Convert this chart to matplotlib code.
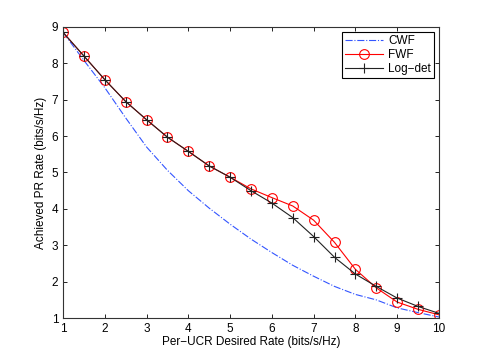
import matplotlib
matplotlib.use("Agg")
import matplotlib.pyplot as plt

x = [1, 1.5, 2, 2.5, 3, 3.5, 4, 4.5, 5, 5.5, 6, 6.5, 7, 7.5, 8, 8.5, 9, 9.5, 10]
cwf = [8.85, 8.08, 7.33, 6.5, 5.7, 5.06, 4.5, 4.02, 3.58, 3.17, 2.8, 2.45, 2.15, 1.87, 1.65, 1.5, 1.28, 1.15, 1.03]
fwf = [8.85, 8.2, 7.55, 6.95, 6.45, 5.97, 5.58, 5.18, 4.87, 4.55, 4.31, 4.08, 3.69, 3.08, 2.34, 1.83, 1.44, 1.24, 1.09]
logdet = [8.85, 8.2, 7.55, 6.95, 6.45, 5.97, 5.58, 5.18, 4.87, 4.5, 4.16, 3.76, 3.24, 2.67, 2.21, 1.87, 1.55, 1.32, 1.13]
xticks = [1, 2, 3, 4, 5, 6, 7, 8, 9, 10]
yticks = [1, 2, 3, 4, 5, 6, 7, 8, 9]

plt.rcParams['font.family'] = ['Liberation Sans', 'DejaVu Sans']
fig = plt.figure(figsize=(4.85, 3.59), dpi=100)
ax = fig.add_axes([0.13, 0.114, 0.775, 0.811])

ax.plot(x, cwf, color='#3355ff', linestyle='-.', linewidth=0.8, label='CWF')
ax.plot(x, fwf, color='red', linestyle='-', linewidth=0.8, marker='o', markersize=7,
        markerfacecolor='none', markeredgewidth=0.8, label='FWF')
ax.plot(x, logdet, color='#222222', linestyle='-', linewidth=0.8, marker='+', markersize=7,
        markeredgewidth=0.8, label='Log\u2212det')

ax.set_xlim(1, 10)
ax.set_ylim(1, 9)
ax.set_xticks(xticks)
ax.set_yticks(yticks)
ax.tick_params(direction='in', top=True, right=True, labelsize=8.5, length=3, width=0.6)
for s in ax.spines.values():
    s.set_linewidth(0.8)
    s.set_color('#333333')
ax.set_xlabel('Per\u2212UCR Desired Rate (bits/s/Hz)', fontsize=8.5, labelpad=1)
ax.set_ylabel('Achieved PR Rate (bits/s/Hz)', fontsize=8.5, labelpad=3)

leg = ax.legend(loc='upper right', fontsize=8.5, fancybox=False, framealpha=1,
                edgecolor='black', handlelength=3.2, borderpad=0.3, labelspacing=0.15,
                handletextpad=0.4, borderaxespad=0.4)
leg.get_frame().set_linewidth(0.8)

fig.savefig('out.png', dpi=100)
